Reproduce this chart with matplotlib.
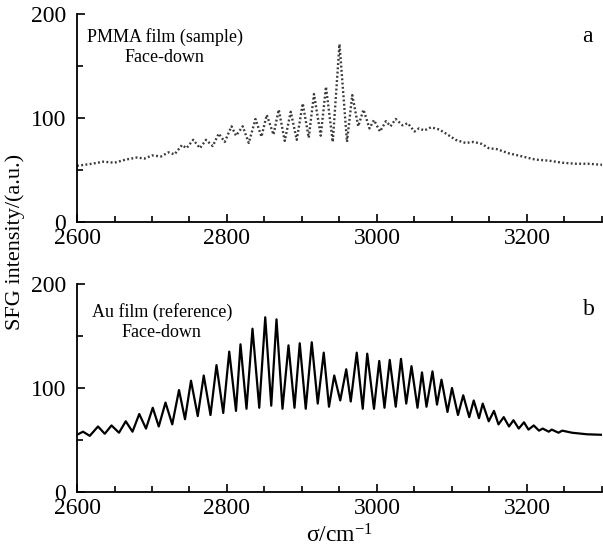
import matplotlib
matplotlib.use("Agg")
import matplotlib.pyplot as plt
from matplotlib.ticker import MultipleLocator

plt.rcParams["font.family"] = ["Liberation Serif", "DejaVu Serif"]
plt.rcParams["mathtext.default"] = "regular"

# (a) PMMA film, face-down: wavenumber / intensity
pmma_x = [2600, 2620, 2635, 2650, 2665, 2680, 2690, 2700, 2712, 2722, 2730,
          2740, 2746, 2755, 2764, 2772, 2781, 2789, 2797, 2806, 2812, 2821,
          2829, 2838, 2846, 2853, 2862, 2869, 2877, 2885, 2893, 2901, 2909,
          2916, 2925, 2932, 2941, 2950, 2960, 2967, 2975, 2982, 2990, 2996,
          3004, 3012, 3018, 3025, 3034, 3041, 3050, 3056, 3063, 3072, 3083,
          3092, 3105, 3118, 3129, 3140, 3149, 3160, 3176, 3194, 3211, 3229,
          3247, 3265, 3282, 3300]
pmma_y = [54, 56, 58, 57, 60, 62, 61, 64, 63, 67, 65,
          74, 71, 79, 71, 79, 73, 85, 77, 92, 83, 92,
          76, 99, 82, 103, 84, 108, 78, 106, 79, 114, 81,
          123, 83, 130, 77, 171, 77, 122, 92, 108, 90, 98,
          87, 97, 92, 99, 93, 95, 87, 90, 88, 91, 89,
          85, 79, 76, 77, 75, 71, 70, 66, 63, 60, 59,
          57, 56, 56, 55]

# (b) Au film reference, face-down
au_x = [2600, 2608, 2617, 2628, 2637, 2646, 2656, 2665, 2674, 2683, 2692,
        2701, 2709, 2718, 2727, 2736, 2744, 2752, 2761, 2769, 2778, 2786,
        2795, 2803, 2812, 2818, 2826, 2834, 2843, 2851, 2859, 2866, 2874,
        2882, 2890, 2897, 2905, 2913, 2921, 2929, 2936, 2943, 2951, 2959,
        2965, 2973, 2981, 2987, 2996, 3003, 3010, 3017, 3025, 3032, 3039,
        3046, 3054, 3060, 3066, 3074, 3080, 3086, 3094, 3100, 3108, 3115,
        3123, 3129, 3136, 3141, 3149, 3156, 3162, 3169, 3176, 3182, 3189,
        3196, 3202, 3209, 3216, 3221, 3229, 3233, 3242, 3247, 3260, 3280, 3300]
au_y = [55, 58, 54, 63, 56, 64, 57, 68, 58, 75, 61,
        81, 63, 86, 65, 98, 70, 107, 73, 112, 74, 122,
        76, 135, 78, 142, 80, 157, 81, 168, 83, 166, 80,
        141, 81, 143, 80, 144, 85, 134, 82, 112, 88, 118,
        87, 134, 80, 133, 80, 126, 81, 127, 82, 128, 85,
        121, 81, 115, 82, 116, 84, 108, 77, 100, 74, 93,
        72, 88, 71, 85, 68, 78, 65, 72, 63, 69, 61,
        67, 60, 64, 59, 61, 58, 60, 57, 59, 57, 55.5, 55]

xticks = [2600, 2800, 3000, 3200]
yticks = [0, 100, 200]


def style_axes(ax):
    ax.set_xlim(2600, 3300)
    ax.set_ylim(0, 200)
    ax.spines["top"].set_visible(False)
    ax.spines["right"].set_visible(False)
    ax.spines["left"].set_linewidth(1.3)
    ax.spines["bottom"].set_linewidth(1.3)
    ax.set_xticks(xticks)
    ax.set_xticks(range(2600, 3301, 50), minor=True)
    ax.set_xticklabels([str(t) for t in xticks])
    ax.set_yticks(yticks)
    ax.yaxis.set_minor_locator(MultipleLocator(50))
    ax.set_yticklabels([str(t) for t in yticks])
    ax.tick_params(which="both", direction="in", width=1.2, labelsize=17)
    ax.tick_params(which="major", length=6)
    ax.tick_params(which="minor", length=4)
    ax.tick_params(axis="x", pad=4)
    ax.tick_params(axis="y", pad=8)
    # lift the "0" a touch so it sits just above the 2600 label
    ax.get_yticklabels()[0].set_va("center_baseline")


fig = plt.figure(figsize=(6.03, 5.55), dpi=100)
ax1 = fig.add_axes([0.1277, 0.600, 0.8706, 0.3748])
ax2 = fig.add_axes([0.1277, 0.1135, 0.8706, 0.3748])

ax1.plot(pmma_x, pmma_y, color="#3a3a3a", lw=1.7, linestyle=(0, (0.8, 1.0)),
         clip_on=False)
style_axes(ax1)
ax1.text(2717, 173, "PMMA film (sample)", ha="center", va="baseline", fontsize=13)
ax1.text(2717, 154, "Face-down", ha="center", va="baseline", fontsize=13)
ax1.text(3280, 173, "a", ha="center", va="baseline", fontsize=17)

ax2.plot(au_x, au_y, color="black", lw=1.6, solid_joinstyle="round")
style_axes(ax2)
ax2.text(2713, 168, "Au film (reference)", ha="center", va="baseline", fontsize=13)
ax2.text(2713, 149, "Face-down", ha="center", va="baseline", fontsize=13)
ax2.text(3282, 170, "b", ha="center", va="baseline", fontsize=17)
ax2.set_xlabel("σ/cm$^{-1}$", fontsize=17, labelpad=4)

fig.text(15 / 603, 1 - 242 / 555, "SFG intensity/(a.u.)", rotation=90,
         ha="center", va="center", fontsize=16)

fig.savefig("out.png", dpi=100)
